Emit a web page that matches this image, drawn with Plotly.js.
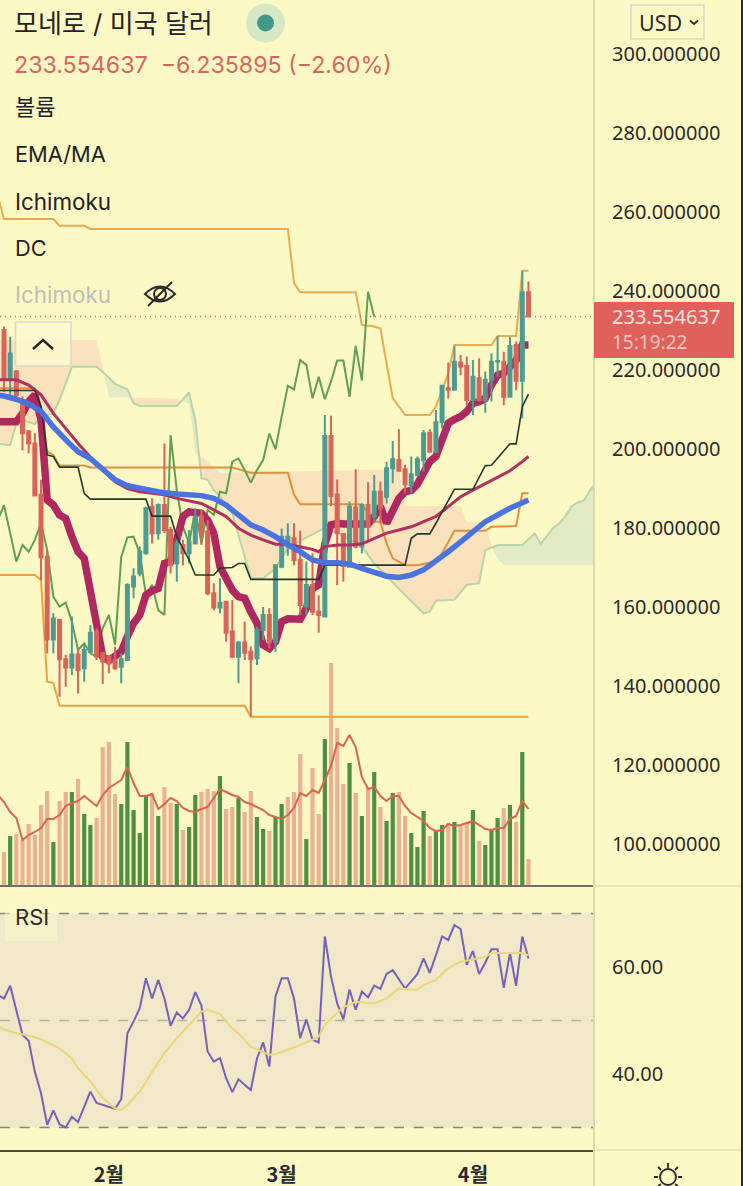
<!DOCTYPE html>
<html><head><meta charset="utf-8">
<script src="https://cdn.plot.ly/plotly-3.0.1.min.js"></script>
<style>html,body{margin:0;padding:0;background:#FDF9C5;overflow:hidden}#c{width:743px;height:1186px}</style>
</head><body><div id="c"></div>
<script>
const openV=[230.1,217.5,219.6,212.4,204.4,201.4,188.4,172.7,151.8,156.7,146.8,144.7,148,144.5,148.7,153.8,148.3,147.4,146.6,144.9,146.6,165.2,168.5,173.6,185.4,178.7,185.8,179.5,171.0,175.7,173.6,176.1,182.9,179.1,163.5,159.9,161.3,153.8,147.4,151,148.7,147,154.2,158,151.2,170.2,175.3,177.4,171.9,160.1,165.6,158.8,157.6,203.3,188.5,178.5,170.2,185.2,175.3,185.8,182.9,189.2,187.9,195.1,197.2,194.9,190.9,193.4,197.2,204.1,199.3,206.8,215.4,215,221.9,221,212.4,217.9,212.4,217.5,222.1,222.1,213.2,226.3,217.3,239.7];
const highV=[231,228.4,220,213.3,204.8,204,192.2,174.4,158.4,157,147.9,157.6,149.5,150.8,155.4,154.6,148.7,147.8,150,148.3,166,169.8,175.3,185.4,187.5,186.2,201.4,180.3,177,177,179.5,185,184.6,182,166,167.3,161.5,161.8,151.4,156.3,150,155,160,159.7,170.8,179.9,181.2,181.2,179.3,171.5,173.6,163,208.6,208.4,192.3,178.7,186.7,194.9,186.2,191.6,193.4,191.7,196.8,202,205,196,198.1,198.1,204.8,205,209.9,216.2,221.9,226.1,223.8,223.4,222.5,223,219.6,224.2,228.6,224.6,228.4,227.2,245.1,242.4];
const lowV=[214.5,213.3,212.4,199.7,198.9,188,166.8,148.3,148.3,137.3,139.8,142.8,138.1,141.1,148.3,146.6,140.5,143.2,144.1,140.7,146.4,162.2,167.7,173.2,176.1,177,178.7,168.5,166.4,170.6,171,175.9,175.7,163,159.2,158.4,151.2,147.2,140.7,146.6,132.2,145.3,151.6,149.5,148.7,169.8,173,170.6,158,158,158,153.5,157.4,185.6,165.6,166.4,170,174.9,173.6,177,181.2,181.2,186.2,191.3,194.3,188.8,188.8,193,194.3,199.1,198.9,205.2,212.8,214.9,218.7,211.1,208.6,212,209.2,212,218.3,211.1,213,214.9,207.8,233.55];
const closeV=[217.5,224.2,213.7,204,201.4,188.2,172.6,151.8,157.1,146.8,144.7,148,144,149.1,153.5,147.4,146.2,145.7,144.5,146.8,165.6,167.7,174,185,178.7,185.8,179.5,170.6,176.1,173.6,176.5,182.9,178.7,163.5,159.9,161.1,153.5,147.4,151,148.4,146.8,154.2,158,151.2,170.6,177.8,177.8,171.9,160.5,165.6,158.8,158,203.3,188.1,178.7,170.4,185.4,175.3,185.8,180.3,189.2,185,195.1,197.4,194.5,191.1,193.6,197.4,204,199.3,206.8,216,215,222.1,220.9,212.4,218.3,212.4,217.5,222.1,222.3,213.2,226.1,217.3,239.7,233.55];
const bars=closeV.map((_,i)=>i);
const lead=[-1].concat(bars);

const volume=[33,49,51,45,61,50,80,94,43,84,93,93,106,71,60,67,138,143,91,81,143,75,52,89,92,69,98,82,81,55,58,90,93,96,94,109,76,78,87,73,94,68,56,54,68,81,88,93,131,46,117,71,146,222,157,101,122,92,69,96,113,78,64,92,93,69,52,38,74,49,54,60,62,63,60,62,75,44,40,56,67,77,80,63,133,26];
const volumeUpBars=[1,8,11,13,14,19,20,21,22,23,25,28,30,31,35,38,41,42,44,45,49,52,56,58,60,62,63,66,67,68,70,71,73,76,78,79,80,82,84];
const volumeMA=[90,83,73,67,45,50,53,57,66,66,70,79,82,84,89,84,79,90,97,101,105,118,102,89,89,91,76,81,87,84,77,74,73,76,78,87,96,93,90,88,83,81,78,75,70,68,66,70,77,92,89,95,92,105,119,142,139,150,138,108,96,98,89,84,89,89,79,72,68,64,57,54,55,61,59,60,62,64,60,56,55,57,57,66,69,84,76];

const emaFast=[206.9,206.9,206.9,206.9,209,212,213.7,207.4,187.1,185.8,183.3,182.4,177.8,174,172.3,163.5,155,147.4,146.4,147.8,148.7,152.5,155.9,158,163,164.1,164.7,171,171.5,177,182.9,184.1,184.1,183.7,182,178.7,170.2,166.8,164.3,162.6,162.2,158.8,155.9,150.4,149.5,151.2,156.3,157,157,156.9,159.7,164.7,165.6,176,180.8,181.2,181,181,181,181,181,182.9,185.4,181.2,184.6,187.5,189.2,189.5,191.1,193.8,196.8,198.1,202.7,206.5,207.5,208.2,209.5,211.6,212,212.8,216.2,218.7,219.2,220.8,222.5,226.3,226.3];

const emaSlowBars=[-1,0,2,4,6,8,10,12,14,16,18,20,22,24,26,28,30,32,34,36,38,40,42,44,46,48,50,52,54,56,58,60,62,64,66,68,70,72,74,76,78,80,82,85];
const emaSlow=[213.6,213.4,212.6,211.4,209.5,205.6,202.3,199.3,197.6,194.7,192.2,190.7,190,189.6,188.9,188.6,188.4,188.2,187.5,185.8,183.3,180.8,179.5,177.8,175.7,174,171.9,171.2,171.2,170.9,169.8,168.7,167.8,167.5,168.1,169.4,171.5,174,176.5,179,181.6,183.3,185,187.1];
const maMidBars=[-1,0,2,4,6,8,10,12,14,16,18,20,22,24,26,28,30,32,34,36,38,40,42,44,46,48,50,51,52,54,56,58,60,62,64,66,68,70,72,74,76,78,80,82,84,85];
const maMid=[217.5,217.5,217.5,216.2,213.7,209,205.2,201.4,198,194.7,191.7,190,189.2,188.8,188.4,187.5,186.8,186.2,184.6,182.9,179.9,178.2,177,175.9,175.9,175.3,174.6,174,175.3,175.7,175.7,176,177.4,178.7,179.5,180.3,181.6,182.9,185.4,187.9,189.6,191.3,193,194.5,196.8,198.1];

const conversionBars=[-1,5,6,7,8,9,12,13,14,23,24,27,28,30,31,34,35,37,38,39,40,51,52,65,66,67,69,70,73,76,78,79,82,83,84,85];
const conversion=[214.8,214.8,210.7,198.5,198.1,195.4,195.4,188.8,187.3,187.3,183,183,177.8,171.9,168.1,168.1,169.8,170,171,171,167,167,170.6,170.6,177.4,178.5,178.5,181.2,189.8,189.8,195.8,195.9,201.3,201.3,210.7,213.9];

const dcUpperBars=[-1,0,8,9,13,14,46,47,48,57,58,60,61,62,63,65,69,70,72,73,79,80,83,84,85];
const dcUpper=[264,258.2,258.2,256.5,256.5,255.7,255.7,242,239.7,239.7,231.4,231,230.5,221.7,212.9,208.6,208.6,210.7,219.2,226.3,226.3,228.6,228.6,245.1,245.1];
const dcLowerBars=[-1,5,6,7,8,9,39,40,85];
const dcLower=[168.1,168.1,166.8,141.1,140.8,135,135,132.2,132.2];
const dcMidBars=[-1,5,6,7,8,9,13,14,37,40,46,47,48,58,60,61,62,63,65,67,70,71,73,78,79,83,84,85];
const dcMid=[215.4,215.4,210.7,199.3,198.5,195.8,195.8,195.3,195.3,194,194,188.4,186,186,181.6,181.6,176.1,172.3,170.6,170.6,171.5,173.6,179.3,179.3,180.3,180.5,188.8,188.8];

const laggingClose=[182,185.8,178.7,171.5,175.7,174,177,181.2,174.4,162.6,160.1,161.1,156.3,149.1,150.8,148.3,147.4,154.6,158,150.4,172.7,177.6,177.8,173.6,163,165.6,159.2,158,203.5,189.6,180.3,176.1,184.6,176.1,184.6,183.3,189.2,188.8,196.8,197.6,194.7,191.5,194.7,197.2,203.9,199.9,208.2,216,215.1,222.5,221.3,212.8,218.3,212.6,217.1,222.4,222.4,213.2,226.1,217.3,239.8,233.5];

const spanABars=[-1,1,2,3,5,6,8,9,11,15,17,18,20,21,22,28,30,31,32,33,34,35,37,40,42,44,46,47,52,55,58,60,65,68,69,70,73,75,77,78,80,84,86,87,88,89,90,91,92,93,94,95,96];
const spanA=[201.3,201,206.5,207.3,206.3,208.2,209,212.4,220.8,220.8,218.1,216.5,215.1,211.6,210.9,210.9,214.3,207.3,192.6,192.2,189.6,188,183.7,167.3,167.3,169.8,174.9,176,180,178,175.3,171,163,158.4,158.8,161.6,161.8,165.6,166,174.4,175.7,175.7,178.6,176,178,180,181.2,183,185.5,186.5,187,189.6,191.5];
const spanBBars=[-1,15,16,17,28,29,30,31,32,33,34,35,64,65,74,75,78,79,80,81,96];
const spanB=[227.6,227.6,220.8,213.1,212.8,212,211.5,198.9,198,196.8,195.1,194,194.8,185.6,185.6,181.6,181.6,175.3,172.3,170.6,170.6];

const rsi=[54.8,54.1,56.5,52,47.3,46.2,40.4,36.4,30.5,33.2,30.6,30,32,31,33.9,36.7,34.6,34.2,33.9,33.5,35.3,47.6,49.8,52.3,57.9,54.1,57.6,54.1,49,51.5,50.4,52,55.3,52.8,44.2,42.3,43,39.2,36.6,39,38,37,42.9,45.9,41.4,54.5,57.9,57.9,54.1,46.7,50.2,46.4,45.9,65.7,58.2,53.2,50.2,55.8,52,55.4,54.3,56.5,55.9,58.7,59.4,57.8,56,57.3,58.7,61.6,58.9,62.2,65.7,65.05,67.85,67.1,60.4,63,58.7,60.8,63.3,63.3,56.1,62.6,56.5,65.7,61.6];
const rsiMABars=[-1,0,2,4,6,8,9,11,12,14,16,18,19,20,22,24,26,28,30,31,32,33,35,37,38,40,42,43,44,46,48,50,51,52,54,55,57,60,62,64,66,67,68,70,72,74,76,78,79,80,84,85];
const rsiMA=[48.85,48.35,47.6,47.2,46.5,45.4,44.8,42.9,41.1,38.6,35.5,33.6,33.3,34.2,36.7,40.4,43.9,46.7,49.2,50.4,51.65,52,51.2,48.5,47.6,45.1,44,43.6,43.7,44.5,45.4,46.4,47,49.2,51.3,52.5,53.5,53.2,54.1,56,55.8,55.8,56.6,57.6,59.8,61,61.4,61.9,62.6,62.6,62.6,62.2];
const rsiBands=[70,50,30];

const priceTicks=[100,120,140,160,180,200,220,240,260,280,300];
const rsiTicks=[40,60];
const monthTicks=[17,45,76];
const monthLabels=['2월','3월','4월'];
const lastPrice=233.554637;

const W=743,H=1186,AX=594,PRICE_B=885,RSI_T=886,RSI_B=1150;
const px=x=>x/W, py=y=>1-y/H;
const FONT="Inter, 'Noto Sans CJK KR', sans-serif";
const AXF="'Noto Sans', 'Noto Sans CJK KR', sans-serif";
const xr=[-0.648,95.62], pr=[89.62,313.67];

/* split the cloud at its crossings into polygons */
function at(xs,ys,x){for(let i=1;i<xs.length;i++){if(x<=xs[i]){const t=(x-xs[i-1])/(xs[i]-xs[i-1]);return ys[i-1]+t*(ys[i]-ys[i-1]);}}return ys[ys.length-1];}
function cloud(){
  const g=[...new Set(spanABars.concat(spanBBars))].sort((a,b)=>a-b);
  const pts=[];
  g.forEach((x,k)=>{const a=at(spanABars,spanA,x),b=at(spanBBars,spanB,x);
    if(k){const p=pts[pts.length-1];const d0=p.a-p.b,d1=a-b;
      if(d0*d1<0){const t=d0/(d0-d1);const cx=p.x+t*(x-p.x);const cy=p.a+t*(a-p.a);pts.push({x:cx,a:cy,b:cy});}}
    pts.push({x,a,b});});
  const out={up:{x:[],y:[]},dn:{x:[],y:[]}};
  let run=[],sign=0;
  const flush=()=>{if(run.length<2)return;const o=sign>0?out.up:out.dn;
    run.forEach(p=>{o.x.push(p.x);o.y.push(p.a);});
    run.slice().reverse().forEach(p=>{o.x.push(p.x);o.y.push(p.b);});o.x.push(null);o.y.push(null);};
  pts.forEach(p=>{const s=Math.sign(p.a-p.b);
    if(s===0){run.push(p);flush();run=[p];sign=0;return;}
    if(sign===0)sign=s;
    if(s!==sign){flush();run=[];sign=s;}
    run.push(p);});
  flush();return out;
}
const cl=cloud();
const ln=(x,y,color,width,ya)=>({type:'scatter',mode:'lines',x,y,xaxis:'x',yaxis:ya,line:{color,width,shape:'linear'},hoverinfo:'skip',showlegend:false});
const upSet=new Set(volumeUpBars);
const data=[
 {type:'bar',x:bars,y:volume,xaxis:'x',yaxis:'y',width:0.68,marker:{color:bars.map(i=>upSet.has(i)?'#4F8F40':'#EBB193'),line:{width:0}},showlegend:false,hoverinfo:'skip'},
 ln(lead,volumeMA,'#D9654F',2,'y'),
 {type:'scatter',mode:'lines',x:cl.dn.x,y:cl.dn.y,xaxis:'x',yaxis:'y2',fill:'toself',fillcolor:'#F9E2BC',line:{width:0},showlegend:false,hoverinfo:'skip'},
 {type:'scatter',mode:'lines',x:cl.up.x,y:cl.up.y,xaxis:'x',yaxis:'y2',fill:'toself',fillcolor:'#E3EBC5',line:{width:0},showlegend:false,hoverinfo:'skip'},
 ln(spanABars,spanA,'#B9D4A9',2,'y2'),
 ln(dcUpperBars,dcUpper,'#E8AC50',2,'y2'),
 ln(dcLowerBars,dcLower,'#E8A33D',2,'y2'),
 ln(dcMidBars,dcMid,'#E0913F',2,'y2'),
 ln(lead.slice(0,laggingClose.length),laggingClose,'#5FA050',2,'y2'),
 ln(lead,emaFast,'#B02860',7.5,'y2'),
 {type:'candlestick',x:bars,open:openV,high:highV,low:lowV,close:closeV,xaxis:'x',yaxis:'y3',whiskerwidth:0,
  increasing:{line:{color:'#4E9C90',width:2},fillcolor:'#4E9C90'},decreasing:{line:{color:'#D9645A',width:2},fillcolor:'#D9645A'},showlegend:false,hoverinfo:'skip'},
 ln(maMidBars,maMid,'#B0305F',3,'y4'),
 ln(conversionBars,conversion,'#26382A',1.6,'y4'),
 ln(emaSlowBars,emaSlow,'#4A72E0',5.5,'y4'),
 {type:'scatter',mode:'lines',x:[xr[0],xr[1]],y:[lastPrice,lastPrice],xaxis:'x',yaxis:'y4',line:{color:'#D9645A',width:1.5,dash:'1px,4px'},showlegend:false,hoverinfo:'skip'},
 {type:'scatter',mode:'lines',x:lead,y:rsi,xaxis:'x2',yaxis:'y5',line:{color:'#7A5FB8',width:2},showlegend:false,hoverinfo:'skip'},
 {type:'scatter',mode:'lines',x:rsiMABars,y:rsiMA,xaxis:'x2',yaxis:'y5',line:{color:'#E8D878',width:2},showlegend:false,hoverinfo:'skip'}
];
const dom=[0,AX/W];
const pdom=[1-PRICE_B/H,1];
const hid={visible:false,fixedrange:true,range:pr,domain:pdom};
const layout={
 width:W,height:H,margin:{l:0,r:0,t:0,b:0,pad:0},paper_bgcolor:'#FDF9C5',plot_bgcolor:'rgba(0,0,0,0)',showlegend:false,
 font:{family:AXF,color:'#2A2A2A'},
 xaxis:{domain:dom,range:xr,anchor:'y',showgrid:false,zeroline:false,showticklabels:false,ticks:'',showline:true,linecolor:'#6F6F62',linewidth:1.5,rangeslider:{visible:false},fixedrange:true},
 yaxis:{domain:pdom,range:[0,PRICE_B],visible:false,fixedrange:true},
 yaxis2:{domain:pdom,range:pr,overlaying:'y',anchor:'x',side:'right',tickmode:'array',tickvals:priceTicks,ticktext:priceTicks.map(v=>v.toFixed(6)),showgrid:false,zeroline:false,ticks:'',ticklabelstandoff:17,tickfont:{family:AXF,size:20,color:'#2A2A2A'},fixedrange:true,showline:false},
 yaxis3:Object.assign({overlaying:'y',anchor:'x'},hid),
 yaxis4:Object.assign({overlaying:'y',anchor:'x'},hid),
 xaxis2:{domain:dom,range:xr,anchor:'y5',showgrid:false,zeroline:false,tickmode:'array',tickvals:monthTicks,ticktext:monthLabels,ticks:'',ticklabelstandoff:6,tickfont:{family:"'Noto Sans CJK KR', sans-serif",size:20,color:'#2A2A2A',weight:600},showline:true,linecolor:'#4A4A42',linewidth:1.5,fixedrange:true},
 yaxis5:{domain:[1-RSI_B/H,1-RSI_T/H],range:[25.79,75.14],anchor:'x2',side:'right',tickmode:'array',tickvals:rsiTicks,ticktext:rsiTicks.map(v=>v.toFixed(2)),showgrid:false,zeroline:false,ticks:'',ticklabelstandoff:17,tickfont:{family:AXF,size:20,color:'#2A2A2A'},fixedrange:true},
 shapes:[
  {type:'rect',xref:'x2',yref:'y5',x0:xr[0],x1:xr[1],y0:rsiBands[2],y1:rsiBands[0],fillcolor:'#F0E8C8',line:{width:0},layer:'below'},
  ...rsiBands.map((v,i)=>({type:'line',xref:'x2',yref:'y5',x0:xr[0],x1:xr[1],y0:v,y1:v,line:{color:i==1?'#B9B2A0':'#8A8578',width:1.6,dash:'10px,9.7px'},layer:'below'})),
  {type:'line',xref:'paper',yref:'paper',x0:px(AX),x1:px(AX),y0:0,y1:1,line:{color:'#DDD9A9',width:2},layer:'above'},
  {type:'line',xref:'paper',yref:'paper',x0:px(AX),x1:1,y0:py(886),y1:py(886),line:{color:'#E3DEB0',width:1.5},layer:'above'},
  {type:'line',xref:'paper',yref:'paper',x0:px(AX),x1:1,y0:py(1150),y1:py(1150),line:{color:'#E3DEB0',width:1.5},layer:'above'},
  {type:'rect',xref:'paper',yref:'paper',x0:px(741),x1:1,y0:0,y1:1,fillcolor:'#2A2A26',line:{width:0},layer:'above'},
  {type:'circle',xref:'paper',yref:'paper',x0:px(246),x1:px(285),y0:py(42.5),y1:py(3.5),fillcolor:'#D6E8C6',line:{width:0},layer:'above'},
  {type:'circle',xref:'paper',yref:'paper',x0:px(257),x1:px(274),y0:py(31.5),y1:py(14.5),fillcolor:'#3F9A8A',line:{width:0},layer:'above'},
  {type:'rect',xref:'paper',yref:'paper',x0:px(15.5),x1:px(71),y0:py(366),y1:py(322),fillcolor:'rgba(253,249,205,0.82)',line:{color:'#D9D8CC',width:1.5},layer:'above'},
  {type:'path',xref:'paper',yref:'paper',path:`M${px(33)},${py(349)} L${px(43)},${py(340)} L${px(53)},${py(349)}`,line:{color:'#1F1F1F',width:2.4},layer:'above'},
  {type:'rect',xref:'paper',yref:'paper',x0:px(631),x1:px(704),y0:py(39),y1:py(5),fillcolor:'rgba(0,0,0,0)',line:{color:'#D6D6C8',width:1.5},layer:'above'},
  {type:'path',xref:'paper',yref:'paper',path:`M${px(690)},${py(20.5)} L${px(694)},${py(24)} L${px(698)},${py(20.5)}`,line:{color:'#2A2A2A',width:1.8},layer:'above'},
  {type:'rect',xref:'paper',yref:'paper',x0:px(594),x1:px(734),y0:py(358),y1:py(302),fillcolor:'#E0605C',line:{width:0},layer:'above'},
  {type:'path',xref:'paper',yref:'paper',path:`M${px(145)},${py(294)} Q${px(160)},${py(279)} ${px(175)},${py(294)} Q${px(160)},${py(309)} ${px(145)},${py(294)} Z`,line:{color:'#2A2A2A',width:2},layer:'above'},
  {type:'circle',xref:'paper',yref:'paper',x0:px(154),x1:px(166),y0:py(300),y1:py(288),line:{color:'#2A2A2A',width:2},layer:'above'},
  {type:'line',xref:'paper',yref:'paper',x0:px(148),x1:px(172),y0:py(306),y1:py(282),line:{color:'#2A2A2A',width:2},layer:'above'},
  {type:'rect',xref:'paper',yref:'paper',x0:px(5),x1:px(57),y0:py(941),y1:py(906),fillcolor:'rgba(253,249,205,0.5)',line:{width:0},layer:'above'},
  {type:'circle',xref:'paper',yref:'paper',x0:px(660),x1:px(676),y0:py(1185),y1:py(1169),line:{color:'#2A2A2A',width:1.8},layer:'above'},
  {type:'path',xref:'paper',yref:'paper',path:`M${px(668)},${py(1168)} L${px(668)},${py(1163)} M${px(658)},${py(1177)} L${px(654)},${py(1177)} M${px(678)},${py(1177)} L${px(682)},${py(1177)} M${px(661)},${py(1170)} L${px(658)},${py(1167)} M${px(675)},${py(1170)} L${px(678)},${py(1167)} M${px(661)},${py(1184)} L${px(658)},${py(1186)} M${px(675)},${py(1184)} L${px(678)},${py(1186)}`,line:{color:'#2A2A2A',width:1.8},layer:'above'}
 ],
 annotations:[]
};
function label(text,x,y,size,color,family,anchor){layout.annotations.push({xref:'paper',yref:'paper',x:px(x),y:py(y),text,showarrow:false,xanchor:anchor||'left',yanchor:'middle',xshift:0,yshift:0,borderpad:0,font:{family:family||FONT,size,color}});}
label('모네로 / 미국 달러',13,24,26,'#222222');
label('233.554637  −6.235895 (−2.60%)',13,65,23.2,'#D8665E');
label('볼륨',14,107,22,'#222222');
label('EMA/MA',14,154,21.8,'#222222');
label('Ichimoku',14,201,22.4,'#222222');
label('DC',14,248,21.8,'#222222');
label('Ichimoku',14,294,22.4,'#BDBDB8');
label('USD',638,23,21.5,'#2A2A2A',AXF);
label('233.554637',611,317,20,'#FBE3DF',AXF);
label('15:19:22',611,342,19,'#F6C3BC',AXF);
label('RSI',14,917,22,'#2A2A2A',FONT);
Plotly.newPlot('c',data,layout,{displayModeBar:false,staticPlot:true});
</script></body></html>
